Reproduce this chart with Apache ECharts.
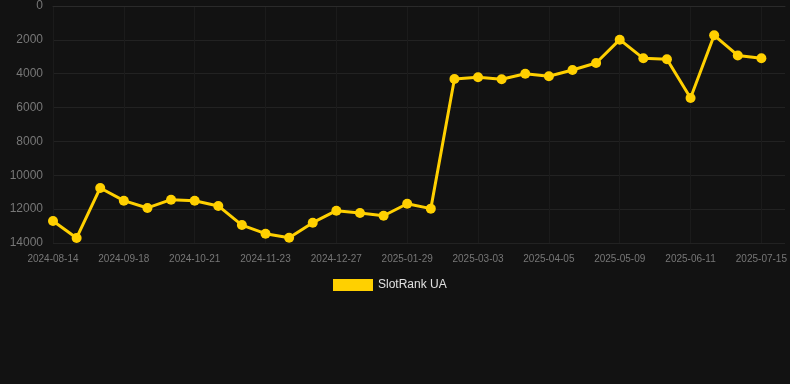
<!DOCTYPE html>
<html><head><meta charset="utf-8">
<script src="https://cdn.jsdelivr.net/npm/echarts@6/dist/echarts.min.js"></script>
<style>html,body{margin:0;padding:0;background:#121212;}#c{width:790px;height:384px;}</style>
</head><body><div id="c"></div>
<script>
var categories = ["2024-08-14","2024-08-26","2024-09-06","2024-09-18","2024-09-29","2024-10-10","2024-10-21","2024-11-01","2024-11-12","2024-11-23","2024-12-04","2024-12-16","2024-12-27","2025-01-07","2025-01-18","2025-01-29","2025-02-09","2025-02-20","2025-03-03","2025-03-14","2025-03-25","2025-04-05","2025-04-16","2025-04-28","2025-05-09","2025-05-20","2025-05-31","2025-06-11","2025-06-22","2025-07-03","2025-07-15"];
var rankValues = [12700,13700,10750,11500,11930,11440,11500,11810,12940,13450,13690,12800,12090,12230,12390,11680,11970,4310,4210,4330,4000,4150,3780,3370,1990,3090,3150,5430,1730,2920,3090];
var yTicks = [0,2000,4000,6000,8000,10000,12000,14000];
var seriesName = "SlotRank UA";

var chart = echarts.init(document.getElementById('c'));
chart.setOption({
  backgroundColor: '#121212',
  animation: false,
  grid: {left: 53, right: 5, top: 6, bottom: 141, containLabel: false},
  legend: {
    data: [seriesName], bottom: 88, left: 328,
    itemWidth: 40, itemHeight: 12, icon: 'rect',
    textStyle: {color: '#e0e0e0', fontSize: 12, fontFamily: 'Arial, Liberation Sans, sans-serif'}
  },
  xAxis: {
    type: 'category', data: categories, boundaryGap: false, max: categories.length,
    axisLine: {show: true, lineStyle: {color: '#2a2a2a'}},
    axisTick: {show: false},
    axisLabel: {color: '#777', fontSize: 10, interval: 2, margin: 11, fontFamily: 'Arial, Liberation Sans, sans-serif'},
    splitLine: {show: true, interval: 2, lineStyle: {color: '#1b1b1b'}}
  },
  yAxis: {
    type: 'value', inverse: true, min: yTicks[0], max: yTicks[yTicks.length-1], interval: 2000,
    axisLine: {show: false}, axisTick: {show: false},
    axisLabel: {color: '#777', fontSize: 12, margin: 10, fontFamily: 'Arial, Liberation Sans, sans-serif',
      formatter: function(v){ return String(v); }},
    splitLine: {lineStyle: {color: '#222'}}
  },
  series: [{
    name: seriesName, type: 'line', data: rankValues,
    symbol: 'circle', symbolSize: 10,
    itemStyle: {color: '#ffd000'},
    lineStyle: {color: '#ffd000', width: 3}
  }]
});
</script></body></html>
